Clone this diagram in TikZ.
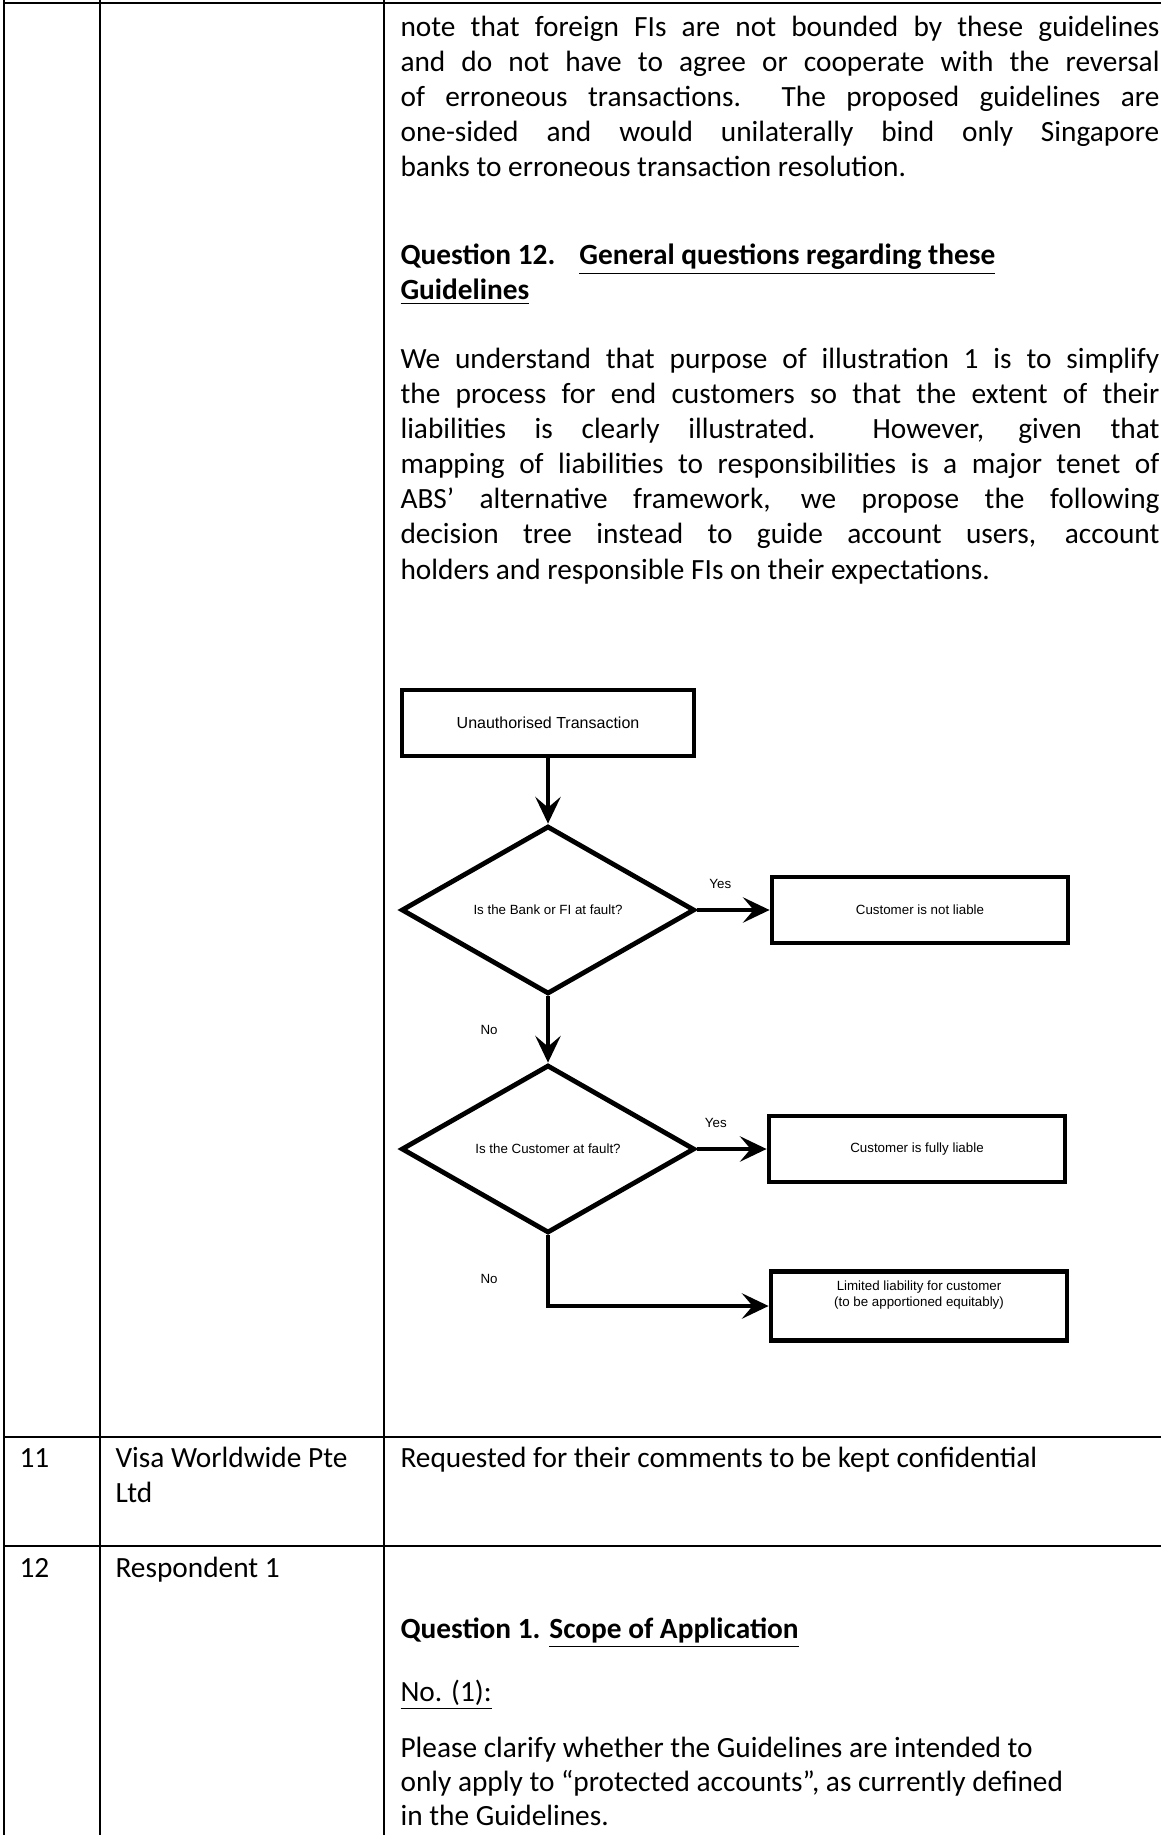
\documentclass[tikz,border=0pt]{standalone}
\usepackage{fontspec}
\setmainfont{Carlito}
\newfontfamily\arialfont{Liberation Sans}
\usetikzlibrary{shapes.geometric,arrows.meta}

\newcommand\fullline[1]{\makebox[284.6pt][s]{#1}}

\tikzset{
  rule/.style={line width=0.7pt},
  body/.style={anchor=base west, inner sep=0pt, font=\fontsize{11}{13.2}\selectfont},
  flowbox/.style={draw, line width=1.8pt, minimum width=111pt, minimum height=24.75pt,
    inner sep=1pt, align=center, font=\arialfont\fontsize{5}{6}\selectfont},
  decision/.style={draw, diamond, line width=1.8pt, minimum width=110pt, minimum height=63pt,
    inner sep=0pt, font=\arialfont\fontsize{5}{6}\selectfont},
  flow/.style={line width=1.8pt, -{Stealth[length=10pt,width=9.5pt,inset=4pt]}},
  lbl/.style={inner sep=0pt, font=\arialfont\fontsize{5}{6}\selectfont}
}

\begin{document}
\begin{tikzpicture}[x=0.375pt,y=-0.375pt]
\useasboundingbox (0,0) rectangle (1161,1835);

% table rules
\draw[rule] (4,3) -- (1161,3);
\draw[rule] (4,1437) -- (1161,1437);
\draw[rule] (4,1546) -- (1161,1546);
\draw[rule] (4,0) -- (4,1835);
\draw[rule] (100,0) -- (100,1835);
\draw[rule] (384,0) -- (384,1835);

% column 3, first row
\node[body] (l1) at (400,37) {\fullline{note that foreign FIs are not bounded by these guidelines}};
\node[body] (l2) at (400,72) {\fullline{and do not have to agree or cooperate with the reversal}};
\node[body] (l3) at (400,107) {\fullline{of erroneous transactions.\ \ The proposed guidelines are}};
\node[body] (l4) at (400,142) {\fullline{one-sided and would unilaterally bind only Singapore}};
\node[body] (l5) at (400,177) {banks to erroneous transaction resolution.};

\node[body] (q12a) at (400,265) {\textbf{Question 12.}\hspace{9pt}\textbf{\underline{General questions regarding these}}};
\node[body] (q12b) at (400,300) {\textbf{\underline{Guidelines}}};

\node[body] (m1) at (400,369) {\fullline{We understand that purpose of illustration 1 is to simplify}};
\node[body] (m2) at (400,404) {\fullline{the process for end customers so that the extent of their}};
\node[body] (m3) at (400,439) {\fullline{liabilities is clearly illustrated.\ \ However, given that}};
\node[body] (m4) at (400,474) {\fullline{mapping of liabilities to responsibilities is a major tenet of}};
\node[body] (m5) at (400,509) {\fullline{ABS’ alternative framework, we propose the following}};
\node[body] (m6) at (400,544) {\fullline{decision tree instead to guide account users, account}};
\node[body] (m7) at (400,579) {holders and responsible FIs on their expectations.};

% decision tree
\node[flowbox, minimum width=109.5pt, font=\arialfont\fontsize{6}{7}\selectfont] (unauth) at (548,723) {Unauthorised Transaction};
\node[decision] (bankfault) at (548,910) {Is the Bank or FI at fault?};
\node[flowbox] (notliable) at (920,910) {Customer is not liable};
\node[decision] (custfault) at (548,1149) {Is the Customer at fault?};
\node[flowbox] (fullyliable) at (917,1149) {Customer is fully liable};
\node[flowbox, minimum height=25.9pt] (limited) at (919,1306) {Limited liability for customer\\(to be apportioned equitably)\\[3pt]};

\draw[flow] (unauth) -- (bankfault);
\draw[flow] (bankfault) -- node[lbl, above=7pt, pos=0.32] (yes1) {Yes} (notliable);
\draw[flow] (bankfault) -- node[lbl, left=18pt] (no1) {No} (custfault);
\draw[flow] (custfault) -- node[lbl, above=7pt, pos=0.27] (yes2) {Yes} (fullyliable);
\draw[flow] (custfault) |- node[lbl, left=18pt, pos=0.31] (no2) {No} (limited);

% rows 11 and 12
\node[body] (n11) at (19,1467) {11};
\node[body] (visa) at (115,1467) {Visa Worldwide Pte};
\node[body] (ltd) at (115,1502) {Ltd};
\node[body] (req) at (400,1467) {Requested for their comments to be kept confidential};

\node[body] (n12) at (19,1577) {12};
\node[body] (resp) at (115,1577) {Respondent 1};
\node[body] (q1) at (400,1638) {\textbf{Question 1. \underline{Scope of Application}}};
\node[body] (num1) at (400,1701) {\underline{No. (1):}};
\node[body] (pc1) at (400,1757) {Please clarify whether the Guidelines are intended to};
\node[body] (pc2) at (400,1791) {only apply to “protected accounts”, as currently defined};
\node[body] (pc3) at (400,1825) {in the Guidelines.};
\end{tikzpicture}
\end{document}
